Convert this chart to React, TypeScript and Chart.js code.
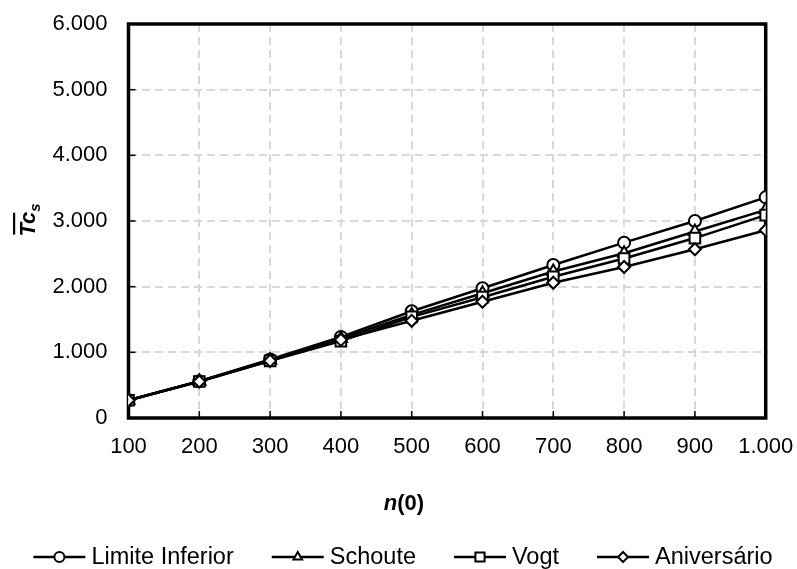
import React, { useEffect, useRef } from 'react';
import { Chart, registerables } from 'chart.js';

Chart.register(...registerables);

// ---- data ----
const nValues = [100, 200, 300, 400, 500, 600, 700, 800, 900, 1000];
const limiteInferior = [270, 560, 890, 1235, 1625, 1975, 2330, 2670, 3000, 3360];
const schoute = [270, 560, 880, 1210, 1570, 1900, 2230, 2510, 2840, 3170];
const vogt = [270, 555, 870, 1170, 1540, 1840, 2150, 2430, 2740, 3090];
const aniversario = [270, 555, 870, 1190, 1480, 1770, 2060, 2300, 2570, 2860];
const seriesNames = ['Limite Inferior', 'Schoute', 'Vogt', 'Aniversário'];
const seriesStyles = ['circle', 'triangle', 'rect', 'rectRot'];
const seriesRadius = [6, 7, 7.5, 6];
const yTickValues = [0, 1000, 2000, 3000, 4000, 5000, 6000];
const xTickValues = nValues;

const FONT = '"Liberation Sans", Arial, sans-serif';

function fmtThousands(v: number): string {
  const s = Math.round(v).toString();
  return s.replace(/\B(?=(\d{3})+(?!\d))/g, '.');
}

function drawMarker(ctx: CanvasRenderingContext2D, style: string, x: number, y: number, r: number) {
  ctx.beginPath();
  if (style === 'circle') {
    ctx.arc(x, y, r, 0, Math.PI * 2);
  } else if (style === 'triangle') {
    ctx.moveTo(x, y - r);
    ctx.lineTo(x + r * 0.866, y + r * 0.5);
    ctx.lineTo(x - r * 0.866, y + r * 0.5);
    ctx.closePath();
  } else if (style === 'rect') {
    const s = r * Math.SQRT1_2;
    ctx.rect(x - s, y - s, 2 * s, 2 * s);
  } else {
    ctx.moveTo(x, y - r);
    ctx.lineTo(x + r, y);
    ctx.lineTo(x, y + r);
    ctx.lineTo(x - r, y);
    ctx.closePath();
  }
  ctx.fillStyle = '#fff';
  ctx.fill();
  ctx.stroke();
}

function zeroPadding(scale: any) {
  scale.paddingTop = 0;
  scale.paddingBottom = 0;
  scale.paddingLeft = 0;
  scale.paddingRight = 0;
}

const framePlugin = {
  id: 'frame',
  beforeDatasetsDraw(chart: any) {
    const { ctx, chartArea } = chart;
    const { left, right, top, bottom } = chartArea;
    ctx.save();
    ctx.strokeStyle = '#000';
    ctx.lineWidth = 3.5;
    ctx.lineJoin = 'miter';
    ctx.strokeRect(left, top, right - left, bottom - top);
    // inner tick marks
    ctx.lineWidth = 1.5;
    const ys = chart.scales.y;
    yTickValues.forEach((v) => {
      const py = ys.getPixelForValue(v);
      ctx.beginPath();
      ctx.moveTo(left, py);
      ctx.lineTo(left + 7, py);
      ctx.stroke();
    });
    const xs = chart.scales.x;
    xTickValues.forEach((v) => {
      const px = xs.getPixelForValue(v);
      ctx.beginPath();
      ctx.moveTo(px, bottom);
      ctx.lineTo(px, bottom - 7);
      ctx.stroke();
    });
    ctx.restore();
  },
  afterDraw(chart: any) {
    const { ctx, chartArea } = chart;
    ctx.save();
    ctx.fillStyle = '#000';
    // Y axis title: T̄c_s
    const cy = (chartArea.top + chartArea.bottom) / 2 - 1;
    ctx.translate(35, cy);
    ctx.rotate(-Math.PI / 2);
    ctx.font = `italic bold 22px ${FONT}`;
    const wTc = ctx.measureText('Tc').width;
    ctx.font = `italic bold 15px ${FONT}`;
    const wS = ctx.measureText('s').width;
    const total = wTc + wS;
    const x0 = -total / 2;
    ctx.font = `italic bold 22px ${FONT}`;
    ctx.textBaseline = 'alphabetic';
    ctx.textAlign = 'left';
    ctx.fillText('Tc', x0, 0);
    ctx.font = `italic bold 15px ${FONT}`;
    ctx.fillText('s', x0 + wTc, 5);
    ctx.fillRect(x0 + 2, -22, wTc - 3, 2.2);
    ctx.restore();

    // X axis title: n(0)
    ctx.save();
    ctx.fillStyle = '#000';
    ctx.textBaseline = 'alphabetic';
    ctx.textAlign = 'left';
    ctx.font = `italic bold 22px ${FONT}`;
    const wn = ctx.measureText('n').width;
    ctx.font = `bold 22px ${FONT}`;
    const wr = ctx.measureText('(0)').width;
    const xs0 = 404 - (wn + wr) / 2;
    ctx.font = `italic bold 22px ${FONT}`;
    ctx.fillText('n', xs0, 510);
    ctx.font = `bold 22px ${FONT}`;
    ctx.fillText('(0)', xs0 + wn, 510);
    ctx.restore();

    // Legend
    ctx.save();
    ctx.font = `23.5px ${FONT}`;
    ctx.textBaseline = 'alphabetic';
    ctx.textAlign = 'left';
    const symW = 52, gapT = 6, gapI = 38;
    const widths = seriesNames.map((t) => ctx.measureText(t).width);
    const totalW = widths.reduce((a, w) => a + symW + gapT + w, 0) + gapI * (seriesNames.length - 1);
    let x = 403 - totalW / 2;
    const ly = 557;
    seriesNames.forEach((t, i) => {
      ctx.strokeStyle = '#000';
      ctx.lineWidth = 2.5;
      ctx.beginPath();
      ctx.moveTo(x, ly);
      ctx.lineTo(x + symW, ly);
      ctx.stroke();
      ctx.lineWidth = 2;
      drawMarker(ctx, seriesStyles[i], x + symW / 2, ly, seriesStyles[i] === 'rect' ? 6.5 : 5);
      ctx.fillStyle = '#000';
      ctx.fillText(t, x + symW + gapT, 564);
      x += symW + gapT + widths[i] + gapI;
    });
    ctx.restore();
  },
};

export default function App() {
  const canvasRef = useRef<HTMLCanvasElement | null>(null);

  useEffect(() => {
    document.body.style.margin = '0';
    const canvas = canvasRef.current;
    if (!canvas) return;
    const seriesData = [limiteInferior, schoute, vogt, aniversario];
    const datasets = seriesData.map((vals, i) => ({
      label: seriesNames[i],
      data: nValues.map((n, j) => ({ x: n, y: vals[j] })),
      borderColor: '#000',
      borderWidth: 2.5,
      backgroundColor: '#fff',
      pointStyle: seriesStyles[i],
      pointRadius: seriesRadius[i],
      pointBorderWidth: 2,
      pointBackgroundColor: '#fff',
      pointBorderColor: '#000',
      tension: 0,
      order: seriesData.length - i,
    }));

    const chart = new Chart(canvas, {
      type: 'line',
      data: { datasets },
      options: {
        animation: false,
        responsive: false,
        maintainAspectRatio: false,
        layout: { padding: { left: 0, top: 24, right: 31.3, bottom: 0 } },
        plugins: {
          legend: { display: false },
          tooltip: { enabled: false },
          title: { display: false },
        },
        scales: {
          x: {
            type: 'linear',
            min: 100,
            max: 1000,
            afterFit: (scale: any) => { scale.height = 151; zeroPadding(scale); },
            afterBuildTicks: (scale: any) => { scale.ticks = xTickValues.map((v) => ({ value: v })); },
            ticks: {
              padding: 16,
              color: '#000',
              font: { family: FONT, size: 22 },
              callback: (v: any) => fmtThousands(Number(v)),
              maxRotation: 0,
              autoSkip: false,
            },
            grid: { color: '#d9d9d9', lineWidth: 2, drawTicks: false },
            border: { display: false, dash: [8, 5] },
          },
          y: {
            type: 'linear',
            min: 0,
            max: 6000,
            afterFit: (scale: any) => { scale.width = 128.5; zeroPadding(scale); },
            afterBuildTicks: (scale: any) => { scale.ticks = yTickValues.map((v) => ({ value: v })); },
            ticks: {
              padding: 21,
              color: '#000',
              font: { family: FONT, size: 22 },
              callback: (v: any) => fmtThousands(Number(v)),
            },
            grid: { color: '#d9d9d9', lineWidth: 2, drawTicks: false },
            border: { display: false, dash: [8, 5] },
          },
        },
      },
      plugins: [framePlugin],
    } as any);
    return () => chart.destroy();
  }, []);

  return (
    <div style={{ width: 797, height: 569 }}>
      <canvas ref={canvasRef} width={797} height={569} style={{ display: 'block', width: 797, height: 569 }} />
    </div>
  );
}
